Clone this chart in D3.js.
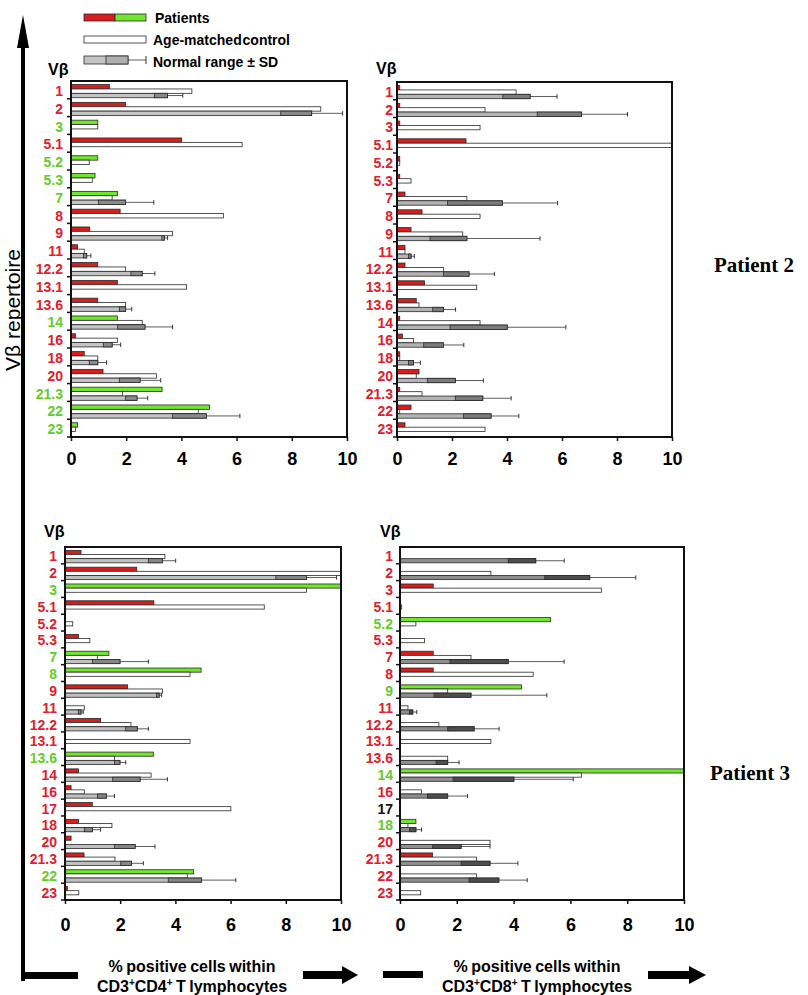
<!DOCTYPE html>
<html><head><meta charset="utf-8">
<script src="https://cdn.jsdelivr.net/npm/d3@7/dist/d3.min.js"></script>
<style>body{margin:0;background:#fff}svg{display:block}</style>
</head><body>
<svg id="c" width="808" height="995"></svg>
<script>
// ---------- DATA ----------
const catsTop = ["1","2","3","5.1","5.2","5.3","7","8","9","11","12.2","13.1","13.6","14","16","18","20","21.3","22","23"];
const catsBottom = ["1","2","3","5.1","5.2","5.3","7","8","9","11","12.2","13.1","13.6","14","16","17","18","20","21.3","22","23"];
const xTicks = [0,2,4,6,8,10];

// Patient 2 – CD3+CD4+
const p2cd4Patient = [1.39,1.98,0.97,4.01,0.97,0.87,1.68,1.78,0.68,0.24,0.97,1.68,0.97,1.68,0.16,0.48,1.16,3.3,5.02,0.24];
const p2cd4Control = [4.38,9.05,0.97,6.2,0.66,0.77,1.49,5.52,3.68,0.48,1.98,4.19,1.98,2.58,1.68,0.97,3.1,1.87,4.61,0.16];
const p2cd4NormLow = [3.02,7.6,null,null,null,null,0.99,null,3.29,0.45,2.17,null,1.75,1.69,1.17,0.66,1.75,1.98,3.68,null];
const p2cd4NormHigh = [3.5,8.72,null,null,null,null,1.98,null,3.38,0.57,2.58,null,1.98,2.68,1.49,0.97,2.5,2.39,4.91,null];
const p2cd4NormSD = [4.05,9.84,null,null,null,null,3.0,null,3.5,0.72,3.04,null,2.2,3.68,1.8,1.29,3.25,2.78,6.12,null];
const p2cd4Color = ["r","r","g","r","g","g","g","r","r","r","r","r","r","g","r","r","r","g","g","g"];

// Patient 2 – CD3+CD8+
const p2cd8Patient = [0.1,0.1,0.1,2.51,0.1,0.1,0.29,0.91,0.51,0.29,0.29,1.0,0.7,0.1,0.2,0.1,0.8,0.1,0.51,0.29];
const p2cd8Control = [4.33,3.2,3.02,10,0.1,0.51,2.54,3.02,2.39,0.29,1.69,2.9,0.8,3.02,0.6,0.1,0.7,0.91,0.1,3.2];
const p2cd8NormLow = [3.85,5.1,null,null,null,null,1.84,null,1.2,0.42,1.69,null,1.3,1.93,0.97,0.42,1.11,2.12,2.42,null];
const p2cd8NormHigh = [4.84,6.71,null,null,null,null,3.83,null,2.54,0.51,2.62,null,1.69,4.01,1.69,0.6,2.12,3.12,3.42,null];
const p2cd8NormSD = [5.82,8.38,null,null,null,null,5.84,null,5.2,0.63,3.54,null,2.13,6.14,2.43,0.85,3.14,4.15,4.43,null];
const p2cd8Color = ["r","r","r","r","r","r","r","r","r","r","r","r","r","r","r","r","r","r","r","r"];

// Patient 3 – CD3+CD4+
const p3cd4Patient = [0.58,2.6,10,3.22,null,0.49,1.59,4.93,2.27,null,1.29,null,3.2,0.49,0.22,0.99,0.49,0.22,0.69,4.66,0.09];
const p3cd4Control = [3.62,10,8.75,7.22,0.28,0.9,1.17,4.53,3.53,0.7,2.39,4.53,1.79,3.12,0.7,6.01,1.7,null,1.81,4.43,0.5];
const p3cd4NormLow = [3.02,7.64,null,null,null,null,0.99,null,3.32,0.48,2.2,null,1.79,1.73,1.18,null,0.7,1.79,2.02,3.74,null];
const p3cd4NormHigh = [3.53,8.75,null,null,null,null,1.99,null,3.41,0.58,2.62,null,1.99,2.72,1.5,null,0.99,2.54,2.41,4.95,null];
const p3cd4NormSD = [4.01,9.84,null,null,null,null,3.02,null,3.5,0.66,3.02,null,2.2,3.71,1.79,null,1.29,3.26,2.84,6.19,null];
const p3cd4Color = ["r","r","g","r","r","r","g","g","r","r","r","r","g","r","r","r","r","r","r","g","r"];

// Patient 3 – CD3+CD8+
const p3cd8Patient = [null,null,1.17,null,5.3,null,1.17,1.17,4.28,null,null,null,null,10,null,null,0.56,null,1.15,null,null];
const p3cd8Control = [null,3.2,7.09,0.06,0.56,0.86,2.5,4.69,1.68,0.28,1.37,3.2,1.68,6.39,0.76,null,0.28,3.17,2.69,2.69,0.73];
const p3cd8NormLow = [3.81,5.1,null,null,null,null,1.76,null,1.2,0.33,1.68,null,1.27,1.87,0.97,null,0.34,1.15,2.15,2.43,null];
const p3cd8NormHigh = [4.78,6.68,null,null,null,null,3.81,null,2.5,0.45,2.61,null,1.68,4.01,1.68,null,0.56,2.15,3.17,3.48,null];
const p3cd8NormSD = [5.78,8.3,null,null,null,null,5.78,null,5.17,0.59,3.49,null,2.08,6.1,2.38,null,0.76,3.17,4.15,4.48,null];
const p3cd8Color = ["r","r","r","r","g","r","r","r","g","r","r","r","r","g","r","k","g","r","r","r","r"];

// ---------- STYLE ----------
const RED = "#d91c1c", GREEN = "#70e62c";
const LABEL = {r:"#e0202c", g:"#66cc2a", k:"#111"};
const FONT = "'Liberation Sans', Arial, sans-serif";

const svg = d3.select("#c");

const panels = [
  {cats:catsTop, pat:p2cd4Patient, ctl:p2cd4Control, lo:p2cd4NormLow, hi:p2cd4NormHigh, sd:p2cd4NormSD, col:p2cd4Color,
   x0:71, x1:347, y0:81, y1:437, labelX:63, vb:[48,75], light:"#c4c4c4", dark:"#8a8a8a", pad:11},
  {cats:catsTop, pat:p2cd8Patient, ctl:p2cd8Control, lo:p2cd8NormLow, hi:p2cd8NormHigh, sd:p2cd8NormSD, col:p2cd8Color,
   x0:397, x1:672, y0:82, y1:437, labelX:393, vb:[376,74], light:"#b4b4b4", dark:"#7c7c7c", pad:11},
  {cats:catsBottom, pat:p3cd4Patient, ctl:p3cd4Control, lo:p3cd4NormLow, hi:p3cd4NormHigh, sd:p3cd4NormSD, col:p3cd4Color,
   x0:65, x1:341, y0:547, y1:900, labelX:57, vb:[44,537], light:"#c0c0c0", dark:"#858585", pad:14},
  {cats:catsBottom, pat:p3cd8Patient, ctl:p3cd8Control, lo:p3cd8NormLow, hi:p3cd8NormHigh, sd:p3cd8NormSD, col:p3cd8Color,
   x0:400, x1:684, y0:547, y1:900, labelX:393, vb:[380,537], light:"#8e8e8e", dark:"#4e4e4e", pad:14}
];

panels.forEach(p => {
  const g = svg.append("g");
  const x = d3.scaleLinear().domain([0,10]).range([p.x0,p.x1]);
  const y = d3.scaleBand().domain(p.cats).range([p.y0,p.y1]);
  const bw = y.bandwidth();
  const inner = d3.scaleBand().domain(["pat","ctl","norm"]).range([bw*0.2, bw*0.94]);
  const bh = inner.bandwidth();
  const cx = v => x(Math.min(v,10));

  const rows = p.cats.map((c,i)=>({c, i}));

  g.selectAll(".pat").data(rows.filter(d=>p.pat[d.i]!=null)).join("rect")
    .attr("x", x(0)).attr("y", d=>y(d.c)+inner("pat"))
    .attr("width", d=>cx(p.pat[d.i])-x(0)).attr("height", bh)
    .attr("fill", d=>p.col[d.i]==="g"?GREEN:RED).attr("stroke","#2a2a2a").attr("stroke-width",0.8);

  g.selectAll(".ctl").data(rows.filter(d=>p.ctl[d.i]!=null)).join("rect")
    .attr("x", x(0)).attr("y", d=>y(d.c)+inner("ctl"))
    .attr("width", d=>cx(p.ctl[d.i])-x(0)).attr("height", bh)
    .attr("fill","#fff").attr("stroke","#2a2a2a").attr("stroke-width",0.8);

  const nr = rows.filter(d=>p.hi[d.i]!=null);
  g.selectAll(".wh").data(nr).join("line")
    .attr("x1", d=>cx(p.hi[d.i])).attr("x2", d=>cx(p.sd[d.i]))
    .attr("y1", d=>y(d.c)+inner("norm")+bh/2).attr("y2", d=>y(d.c)+inner("norm")+bh/2)
    .attr("stroke","#333").attr("stroke-width",0.8);
  g.selectAll(".cap").data(nr).join("line")
    .attr("x1", d=>cx(p.sd[d.i])).attr("x2", d=>cx(p.sd[d.i]))
    .attr("y1", d=>y(d.c)+inner("norm")).attr("y2", d=>y(d.c)+inner("norm")+bh)
    .attr("stroke","#333").attr("stroke-width",1);
  g.selectAll(".nl").data(nr).join("rect")
    .attr("x", x(0)).attr("y", d=>y(d.c)+inner("norm"))
    .attr("width", d=>cx(p.hi[d.i])-x(0)).attr("height", bh)
    .attr("fill",p.light).attr("stroke","#2a2a2a").attr("stroke-width",0.8);
  g.selectAll(".nd").data(nr).join("rect")
    .attr("x", d=>cx(p.lo[d.i])).attr("y", d=>y(d.c)+inner("norm"))
    .attr("width", d=>Math.max(0,cx(p.hi[d.i])-cx(p.lo[d.i]))).attr("height", bh)
    .attr("fill",p.dark).attr("stroke","#2a2a2a").attr("stroke-width",0.8);

  g.append("rect").attr("x",p.x0).attr("y",p.y0).attr("width",p.x1-p.x0).attr("height",p.y1-p.y0)
    .attr("fill","none").attr("stroke","#111").attr("stroke-width",2);

  const bounds = p.cats.map(c=>y(c)).slice(1).concat([p.y1]);
  g.selectAll(".lt").data(bounds).join("line")
    .attr("x1",p.x0-4).attr("x2",p.x0).attr("y1",d=>d).attr("y2",d=>d)
    .attr("stroke","#111").attr("stroke-width",1.5);

  const ax = g.append("g").attr("transform",`translate(0,${p.y1})`)
    .call(d3.axisBottom(x).tickValues(xTicks).tickSize(4).tickSizeOuter(0).tickPadding(p.pad));
  ax.select(".domain").remove();
  ax.selectAll("line").attr("stroke","#111").attr("stroke-width",1.5);
  ax.selectAll("text").attr("font-family",FONT).attr("font-weight","bold").attr("font-size",18).attr("fill","#000");

  g.selectAll(".lab").data(rows).join("text")
    .attr("x",p.labelX).attr("y",d=>y(d.c)+bw/2+1)
    .attr("dominant-baseline","central").attr("text-anchor","end")
    .attr("font-family",FONT).attr("font-weight","bold").attr("font-size",14)
    .attr("fill",d=>LABEL[p.col[d.i]]).text(d=>d.c);

  g.append("text").attr("x",p.vb[0]).attr("y",p.vb[1]).attr("font-family",FONT).attr("font-size",16)
    .attr("font-weight","bold").attr("fill","#000").text("Vβ");
});

// ---------- LEGEND ----------
const lg = svg.append("g");
lg.append("rect").attr("x",84).attr("y",14).attr("width",31).attr("height",7).attr("fill",RED).attr("stroke","#2a2a2a").attr("stroke-width",0.8);
lg.append("rect").attr("x",115).attr("y",14).attr("width",31).attr("height",7).attr("fill",GREEN).attr("stroke","#2a2a2a").attr("stroke-width",0.8);
lg.append("rect").attr("x",84).attr("y",36).attr("width",62).attr("height",7).attr("fill","#fff").attr("stroke","#2a2a2a").attr("stroke-width",0.8);
lg.append("line").attr("x1",128).attr("x2",146).attr("y1",60).attr("y2",60).attr("stroke","#333").attr("stroke-width",0.8);
lg.append("line").attr("x1",146).attr("x2",146).attr("y1",56).attr("y2",64).attr("stroke","#333").attr("stroke-width",1);
lg.append("rect").attr("x",84).attr("y",56).attr("width",44).attr("height",8).attr("fill","#c4c4c4").attr("stroke","#2a2a2a").attr("stroke-width",0.8);
lg.append("rect").attr("x",106).attr("y",56).attr("width",22).attr("height",8).attr("fill","#b0b0b0").attr("stroke","#2a2a2a").attr("stroke-width",0.8);
const legText = [["Patients",23,0],["Age-matched control",45,-3],["Normal range ± SD",67,0]];
lg.selectAll("text").data(legText).join("text")
  .attr("x",d=>d[0]==="Patients"?155:153).attr("y",d=>d[1]).attr("font-family",FONT).attr("font-weight","bold")
  .attr("font-size",14).attr("word-spacing",d=>d[2]).attr("fill","#000").text(d=>d[0]);

// ---------- PATIENT LABELS ----------
svg.append("text").attr("x",754).attr("y",272).attr("text-anchor","middle")
  .attr("font-family","'Liberation Serif','Times New Roman',serif").attr("font-weight","bold").attr("font-size",21).text("Patient 2");
svg.append("text").attr("x",750).attr("y",780).attr("text-anchor","middle")
  .attr("font-family","'Liberation Serif','Times New Roman',serif").attr("font-weight","bold").attr("font-size",21).text("Patient 3");

// ---------- BIG ARROWS ----------
const ar = svg.append("g").attr("fill","#000");
ar.append("path").attr("d","M23,15 L17,48 L29,48 Z");
ar.append("rect").attr("x",21).attr("y",46).attr("width",4).attr("height",935);
ar.append("rect").attr("x",21).attr("y",972).attr("width",57).attr("height",7);
ar.append("rect").attr("x",303).attr("y",971).attr("width",41).attr("height",8);
ar.append("path").attr("d","M342,966 L358,975 L342,984 Z");
ar.append("rect").attr("x",383).attr("y",971).attr("width",40).attr("height",7);
ar.append("rect").attr("x",648).attr("y",971).attr("width",42).attr("height",8);
ar.append("path").attr("d","M689,966 L706,975 L689,984 Z");

svg.append("text").attr("transform","translate(20,310) rotate(-90)").attr("text-anchor","middle")
  .attr("font-family",FONT).attr("font-size",21).attr("fill","#000").text("Vβ repertoire");

function axisTitle(cx, sub){
  const t = svg.append("text").attr("text-anchor","middle").attr("font-family",FONT).attr("font-weight","bold")
    .attr("font-size",16).attr("fill","#000").attr("word-spacing",-1);
  t.append("tspan").attr("x",cx).attr("y",972).text("% positive cells within");
  const t2 = t.append("tspan").attr("x",cx).attr("y",992);
  t2.append("tspan").text("CD3");
  t2.append("tspan").attr("font-size",10).attr("dy",-6).text("+");
  t2.append("tspan").attr("dy",6).text("CD"+sub);
  t2.append("tspan").attr("font-size",10).attr("dy",-6).text("+");
  t2.append("tspan").attr("dy",6).text(" T lymphocytes");
}
axisTitle(192,"4");
axisTitle(537,"8");
</script>
</body></html>
